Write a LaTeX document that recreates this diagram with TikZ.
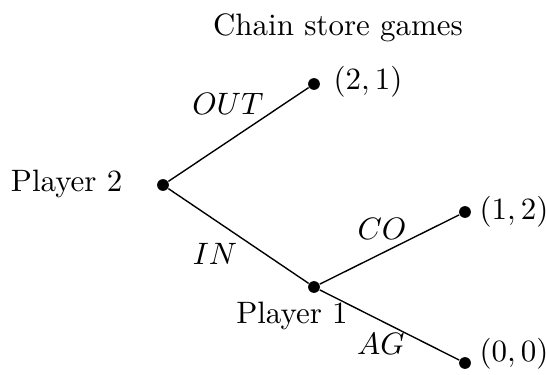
\documentclass[tikz,border=0pt]{standalone}
\begin{document}
\begin{tikzpicture}[x=0.323pt,y=-0.323pt,
  dot/.style={circle,fill=black,inner sep=0pt,minimum size=3.8pt},
  edge/.style={line width=0.45pt},
  lbl/.style={inner sep=0pt}]
\useasboundingbox (0,0) rectangle (546,375);
\node[lbl,anchor=base] (title) at (338,36) {Chain store games};
\node[dot] (p2) at (163,185) {};
\node[dot] (t1) at (314,84) {};
\node[dot] (p1) at (314,287) {};
\node[dot] (t2) at (465,212) {};
\node[dot] (t3) at (465,363) {};
\node[lbl,anchor=base east] (p2l) at (123,192) {Player 2};
\node[lbl,anchor=west] (t1l) at (333,82) {$(2,1)$};
\node[lbl,anchor=west] (t2l) at (479,212) {$(1,2)$};
\node[lbl,anchor=west] (t3l) at (479,354) {$(0,0)$};
\node[lbl,anchor=base] (p1l) at (292,324) {Player 1};
\draw[edge] (p2) -- (t1);
\draw[edge] (p2) -- (p1);
\draw[edge] (p1) -- (t2);
\draw[edge] (p1) -- (t3);
\node[lbl,anchor=base] (out) at (228,115) {$OUT$};
\node[lbl,anchor=base] (in) at (215,265) {$IN$};
\node[lbl,anchor=base] (co) at (382,240) {$CO$};
\node[lbl,anchor=base] (ag) at (381,355) {$AG$};
\end{tikzpicture}
\end{document}
